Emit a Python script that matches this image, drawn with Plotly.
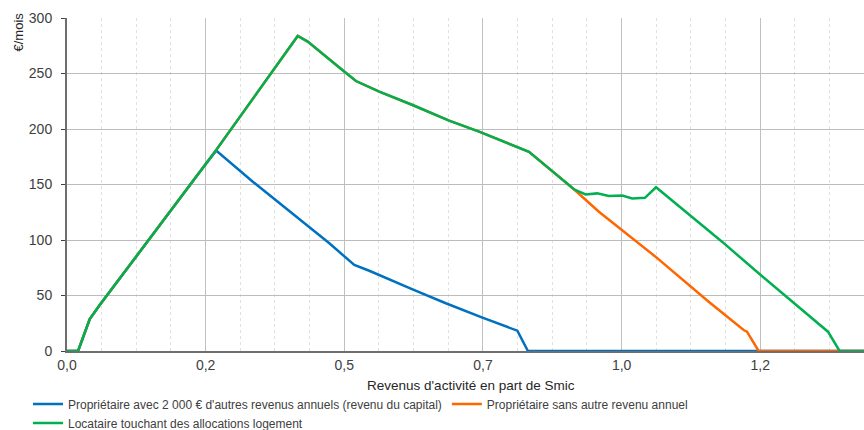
import plotly.graph_objects as go

# Data (x in share of Smic, y in €/month)
green_x = [0.0, 0.020, 0.041, 0.059, 0.242, 0.269, 0.416, 0.434, 0.497, 0.521,
           0.563, 0.623, 0.689, 0.743, 0.833, 0.887, 0.914, 0.935, 0.956, 0.977, 1.001, 1.019,
           1.042, 1.062, 1.115, 1.181, 1.247, 1.307, 1.372, 1.393, 1.437]
green_y = [0, 0, 28.8, 41.4, 163, 181, 283.8, 278.7, 253, 243.2,
           233.6, 221.6, 207.5, 197.6, 179.5, 157.5, 145.7, 141.1, 142, 139.6, 140, 137.5,
           138, 147.5, 125.5, 98.5, 70, 44.4, 17.4, 0, 0]

blue_x = [0.0, 0.020, 0.041, 0.059, 0.242, 0.269, 0.335, 0.473, 0.518, 0.545, 0.623,
          0.683, 0.749, 0.812, 0.831, 1.437]
blue_y = [0, 0, 28.8, 41.4, 163, 180.5, 152.5, 97, 77.5, 72.3, 55.6,
          43, 30, 18.3, 0, 0]

orange_x = [0.0, 0.020, 0.041, 0.059, 0.242, 0.269, 0.416, 0.434, 0.497, 0.521,
            0.563, 0.623, 0.689, 0.743, 0.833, 0.887, 0.914, 0.959, 1.022, 1.061, 1.157, 1.220,
            1.226, 1.247, 1.437]
orange_y = [0, 0, 28.8, 41.4, 163, 181, 283.8, 278.7, 253, 243.2,
            233.6, 221.6, 207.5, 197.6, 179.5, 157.5, 145.7, 125.5, 100, 85, 44.4, 18.9,
            17.4, 0, 0]

x_tickvals = [0, 0.25, 0.5, 0.75, 1.0, 1.25]
x_ticktext = ["0,0", "0,2", "0,5", "0,7", "1,0", "1,2"]
y_tickvals = [0, 50, 100, 150, 200, 250, 300]

names = ["Propriétaire avec 2 000 € d'autres revenus annuels (revenu du capital)",
         "Propriétaire sans autre revenu annuel",
         "Locataire touchant des allocations logement"]
colors = ["#0070C0", "#FF6600", "#00B050"]

FONT = "Liberation Sans, Arial, sans-serif"

fig = go.Figure()
for xs, ys, name, col in [(blue_x, blue_y, names[0], colors[0]),
                          (orange_x, orange_y, names[1], colors[1]),
                          (green_x, green_y, names[2], colors[2])]:
    fig.add_trace(go.Scatter(x=xs, y=ys, mode="lines", name=name,
                             line=dict(color=col, width=2.5)))

fig.update_layout(
    width=864, height=430,
    margin=dict(l=67, r=0, t=18, b=79, autoexpand=False),
    plot_bgcolor="white", paper_bgcolor="white",
    font=dict(family=FONT, color="#404040", size=13),
    showlegend=True,
    legend=dict(orientation="h", x=-(67 - 28) / 797, xanchor="left",
                y=-(389.5 - 351) / 333, yanchor="top",
                font=dict(size=12, color="#404040"), bgcolor="rgba(0,0,0,0)",
                tracegroupgap=0, itemwidth=30),
    xaxis=dict(range=[0, 1.437], tickvals=x_tickvals, ticktext=x_ticktext,
               showgrid=True, gridcolor="#c0c0c0", gridwidth=1,
               minor=dict(dtick=0.0625, tick0=0, showgrid=True, gridcolor="#e0e0e0",
                          griddash="dot", gridwidth=1),
               zeroline=False, showline=True, linecolor="#6e6e6e", linewidth=2,
               ticks="", tickfont=dict(size=14, color="#404040")),
    yaxis=dict(range=[0, 300], tickvals=y_tickvals,
               showgrid=True, gridcolor="#bcbcbc", gridwidth=1,
               zeroline=False, showline=True, linecolor="#6e6e6e", linewidth=2,
               ticks="outside", ticklen=4, tickcolor="#404040",
               ticklabelstandoff=6,
               tickfont=dict(size=14, color="#404040")),
    annotations=[
        dict(text="Revenus d'activité en part de Smic", xref="paper", yref="paper",
             x=(471 - 67) / 797, y=-(385 - 351) / 333, xanchor="center", yanchor="middle",
             showarrow=False, font=dict(size=13.5, color="#262626")),
        dict(text="€/mois", xref="paper", yref="paper", textangle=-90,
             x=-(67 - 17.5) / 797, y=1 - (32 - 18) / 333, xanchor="center", yanchor="middle",
             showarrow=False, font=dict(size=13, color="#262626")),
    ],
)

fig.write_html("out.html", config={"displayModeBar": False},
               post_script="document.body.style.margin='0';document.body.style.overflow='hidden';")
